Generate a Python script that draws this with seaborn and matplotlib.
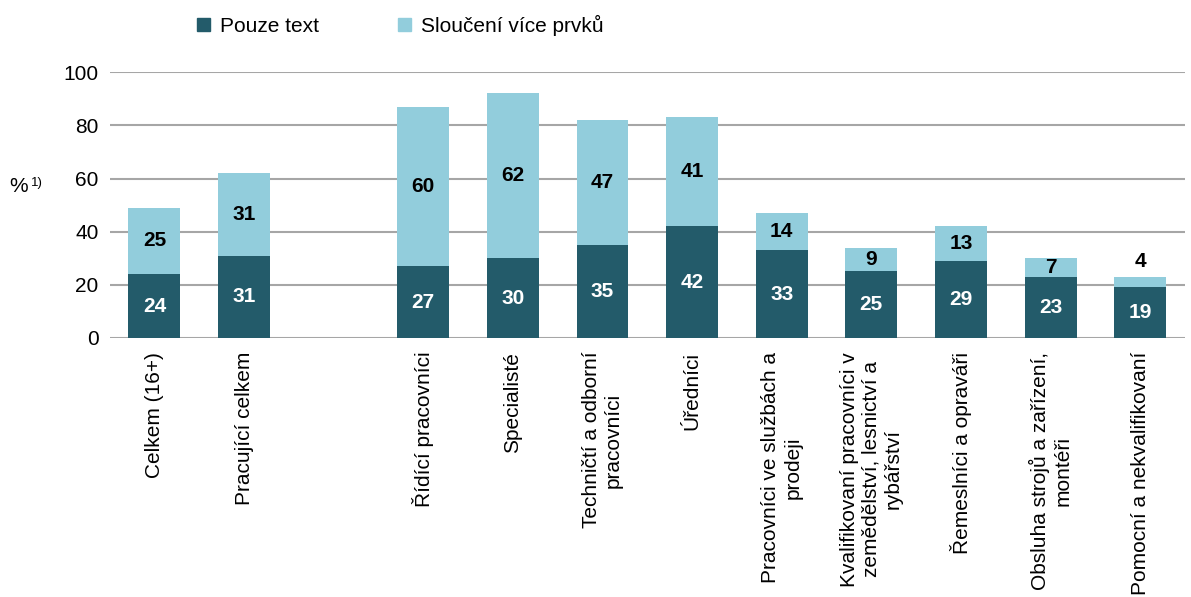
import seaborn as sns
import matplotlib.pyplot as plt
import matplotlib.patches as mpatches
import pandas as pd
import numpy as np

# data
categories = [
    "Celkem (16+)",
    "Pracující celkem",
    " ",
    "Řídící pracovníci",
    "Specialisté",
    "Techničtí a odborní\npracovníci",
    "Úředníci",
    "Pracovníci ve službách a\nprodeji",
    "Kvalifikovaní pracovníci v\nzemědělství, lesnictví a\nrybářství",
    "Řemeslníci a opraváři",
    "Obsluha strojů a zařízení,\nmontéři",
    "Pomocní a nekvalifikovaní",
]
pouze_text = [24, 31, np.nan, 27, 30, 35, 42, 33, 25, 29, 23, 19]
slouceni = [25, 31, np.nan, 60, 62, 47, 41, 14, 9, 13, 7, 4]
series_names = ["Pouze text", "Sloučení více prvků"]
y_ticks = [0, 20, 40, 60, 80, 100]

dark_color = "#235b6a"
light_color = "#92cddc"
font_size = 15

df = pd.DataFrame({"category": categories, "bottom": pouze_text, "top": slouceni})
df["total"] = df["bottom"] + df["top"]

sns.set_style("white")
plt.rcParams["font.family"] = ["Liberation Sans", "DejaVu Sans"]
plt.rcParams["text.color"] = "black"
plt.rcParams["xtick.color"] = "black"
plt.rcParams["ytick.color"] = "black"

fig, ax = plt.subplots(figsize=(11.91, 5.97), dpi=100)
plt.subplots_adjust(left=0.092, right=0.995, top=0.879, bottom=0.434)
ax.set_axisbelow(True)
ax.yaxis.grid(True, color="#a6a6a6", linewidth=1.5, zorder=0)

sns.barplot(data=df, x="category", y="total", order=categories, color=light_color,
            width=0.58, saturation=1, linewidth=0, ax=ax, zorder=2)
sns.barplot(data=df, x="category", y="bottom", order=categories, color=dark_color,
            width=0.58, saturation=1, linewidth=0, ax=ax, zorder=2)

# value labels
for i, row in df.iterrows():
    if np.isnan(row["bottom"]):
        continue
    ax.text(i, row["bottom"] / 2, f"{int(row['bottom'])}", ha="center", va="center",
            color="white", fontsize=font_size, fontweight="bold", zorder=3)
    if row["top"] >= 6:
        ax.text(i, row["bottom"] + row["top"] / 2, f"{int(row['top'])}", ha="center",
                va="center", color="black", fontsize=font_size, fontweight="bold", zorder=3)
    else:
        ax.text(i, row["total"] + 2, f"{int(row['top'])}", ha="center", va="bottom",
                color="black", fontsize=font_size, fontweight="bold", zorder=3)

ax.set_ylim(0, 100)
ax.set_xlim(-0.5, len(categories) - 0.5)
ax.set_yticks(y_ticks)
sns.despine(ax=ax, left=True, bottom=True, top=True, right=True)
ax.set_xlabel("")
ax.set_ylabel("")
ax.tick_params(axis="both", length=0, labelsize=font_size, pad=8)
ax.tick_params(axis="x", pad=10)
plt.setp(ax.get_xticklabels(), rotation=90, ha="center", va="top", multialignment="center")

# y unit label
fig.text(0.008, 0.688, "%", fontsize=font_size, ha="left", va="center")
fig.text(0.026, 0.694, "1)", fontsize=9.5, ha="left", va="center")

handles = [mpatches.Patch(color=dark_color), mpatches.Patch(color=light_color)]
fig.legend(handles, series_names, loc="center left", bbox_to_anchor=(0.150, 0.958), ncol=2,
           frameon=False, fontsize=font_size, handlelength=0.6, handleheight=0.6,
           handletextpad=0.5, columnspacing=3.8)

plt.savefig("out.png", dpi=100)
